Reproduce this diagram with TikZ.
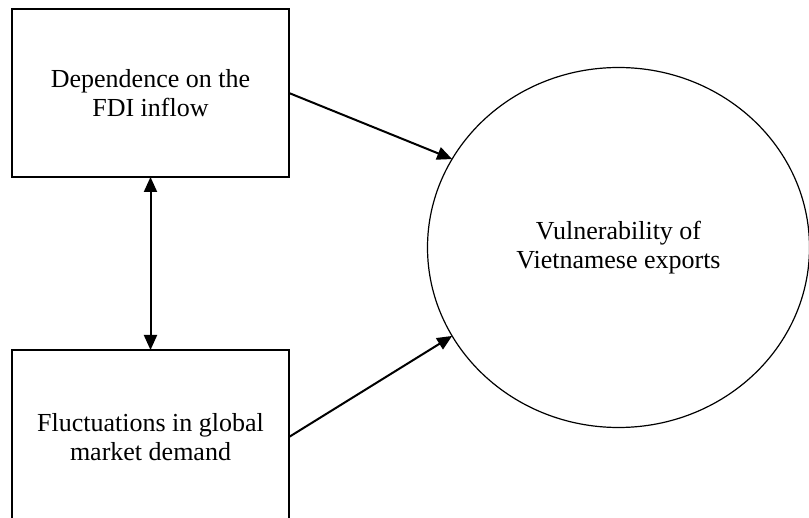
\documentclass[tikz,border=0pt]{standalone}
\usepackage{fontspec}
\setmainfont{Liberation Serif}
\usetikzlibrary{shapes.geometric,arrows.meta}
\begin{document}
\begin{tikzpicture}[x=0.5pt,y=-0.5pt,
  txt/.style={font=\fontsize{13}{14.5}\selectfont, align=center},
  box/.style={txt, draw, line width=0.6pt, minimum width=138.5pt, inner sep=0pt, outer sep=0pt},
  ellbox/.style={txt, ellipse, draw, line width=0.6pt, minimum width=191pt, minimum height=180pt, inner sep=0pt, outer sep=0pt},
  conn/.style={line width=1pt, -{Triangle[length=7.5pt,width=6.5pt]}},
  biconn/.style={line width=1pt, {Triangle[length=7.5pt,width=6.5pt]}-{Triangle[length=7.5pt,width=6.5pt]}}]
\useasboundingbox (0,0) rectangle (809,518);
\clip (0,0) rectangle (809,518);
\node[box, minimum height=84pt] (dep) at (150.5,93) {Dependence on the\\FDI inflow};
\node[box, minimum height=87pt] (fluc) at (150.5,437) {Fluctuations in global\\market demand};
\node[ellbox] (vul) at (618.5,247.5) {Vulnerability of\\Vietnamese exports};
\draw[conn] (dep.east) -- (vul.152);
\draw[conn] (fluc.east) -- (vul.208);
\draw[biconn] (dep.south) -- (fluc.north);
\end{tikzpicture}
\end{document}
